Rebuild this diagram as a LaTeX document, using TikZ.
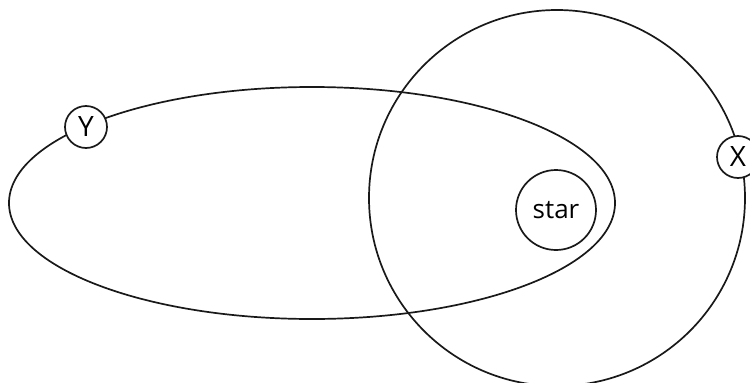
\documentclass[tikz,border=0pt]{standalone}
\usepackage{fontspec}
\setmainfont{Open Sans}
\usepackage{tikz}
\usetikzlibrary{
    shapes.geometric,
    positioning
}
\tikzset{
    outline/.style={
        draw=black!90,
        line width=1.7pt,
        inner sep=0pt,
        outer sep=0pt
    },
    setellipse/.style={
        outline,
        ellipse,
        minimum width=606pt,
        minimum height=232pt
    },
    setcircle/.style={
        outline,
        circle,
        minimum size=376pt
    },
    element/.style={
        outline,
        circle,
        fill=white,
        minimum size=80pt,
        font=\fontsize{26}{30}\selectfont
    },
    tag/.style={
        outline,
        circle,
        fill=white,
        minimum size=42pt,
        font=\fontsize{28}{32}\selectfont
    }
}

\begin{document}
\begin{tikzpicture}[x=1pt, y=-1pt]
\useasboundingbox (0,0) rectangle (750,383);
\node[setellipse] (yset) at (312,203) {};
\node[setcircle] (xset) at (557,198) {};
\node[element] (star) at (556,210) {star};
\node[tag] (ytag) at (86,127) {Y};
\node[tag] (xtag) at (738,157) {X};
\end{tikzpicture}
\end{document}
